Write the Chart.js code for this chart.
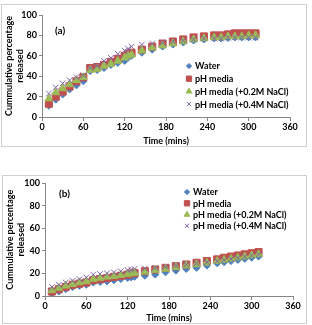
<!DOCTYPE html>
<html><head><meta charset="utf-8">
<script src="https://cdn.jsdelivr.net/npm/chart.js@4/dist/chart.umd.min.js"></script>
<style>
body{margin:0;background:#fff;width:312px;height:325px;position:relative;overflow:hidden}
.box{position:absolute;border:1px solid #cfcfcf;background:#fff}
#boxA{left:1px;top:4px;width:304px;height:141px}
#boxB{left:2px;top:175px;width:303px;height:147px}
canvas{display:block}
</style></head><body>
<div class="box" id="boxA"><canvas id="chartA" width="304" height="141"></canvas></div>
<div class="box" id="boxB"><canvas id="chartB" width="303" height="147"></canvas></div>
<script>
// sampling times (mins)
const times = [10,20,30,40,50,60,70,80,90,100,110,120,125,130,145,160,175,190,205,220,235,250,260,270,280,290,300,310];
const seriesNames = ['Water', 'pH media', 'pH media (+0.2M NaCl)', 'pH media (+0.4M NaCl)'];
const xTicks = [0,60,120,180,240,300,360];
const yTicks = [0,20,40,60,80,100];

// panel (a)
const waterA = [11,17,22,27,31,35,45,46,48,51,53,55,58,60,63,66,69,71,73,75,76,77,77,77.5,78,78,78,78];
const phA    = [13,20,25,30,35,39,48,49,51,54,57,60,62,63,66,69,72,74,76,78,79,80,80,81,82,82,82,82];
const nacl2A = [18,24,28,32,36,39,46,47,50,52,55,58,60,61,65,68,70,72,74,76,77,78,78,79,79,79,80,80];
const nacl4A = [23,29,33,36,39,41,48,50,55,58,62,65,67,69,71,72,73,74,75,76,77,77,77,78,78,78,78,78];

// panel (b)
const waterB = [2,4,6,8,9,10,12,12.5,13,14,15,16,16.5,17,18,19,21,22.5,24,25,27,29,30,31,32,33,34,35];
const phB    = [4,6,8,10,11,12,14,15,16,17,18,19,20,20.5,22,23.5,25,26.5,28,29.5,31,32.5,34,35,36,37,38,39];
const nacl2B = [5,7,9,10.5,12,13,15,16,17,17.5,18.5,19.5,20,20.5,21.5,23,24,25.5,27,28,29.5,31,32,33,34,35,36,37];
const nacl4B = [8,10,12,13.5,15,16.5,19,19.5,20,21,22,23,23.5,24,24.5,25,26,27,28,29,30,31,32,33,34,35,36,37];

const styles = [
  {color:'#4F81BD', pointStyle:'rectRot', radius:3.5},
  {color:'#C0504D', pointStyle:'rect', radius:5},
  {color:'#9BBB59', pointStyle:'triangle', radius:4.5},
  {color:'#8064A2', pointStyle:'crossRot', radius:4}
];
const FONT = 'Lato, "Liberation Sans", sans-serif';

// legend + panel letter drawn inside the plot
const innerLegend = {
  id: 'innerLegend',
  afterDraw(chart, args, opts) {
    const ctx = chart.ctx;
    ctx.save();
    ctx.font = 'bold 9px ' + FONT;
    ctx.textBaseline = 'middle';
    seriesNames.forEach((name, i) => {
      const y = opts.y + i * opts.gap;
      const st = styles[i];
      ctx.fillStyle = st.color;
      ctx.strokeStyle = st.color;
      ctx.lineWidth = 1;
      Chart.helpers.drawPoint(ctx, {pointStyle: st.pointStyle, radius: st.radius * 0.75, rotation: 0, borderWidth: 1}, opts.x, y);
      ctx.fillStyle = '#000';
      ctx.fillText(name, opts.x + 6, y + 0.5);
    });
    ctx.font = 'bold 10px ' + FONT;
    ctx.fillText(opts.label, opts.lx, opts.ly);
    ctx.restore();
  }
};

function makeChart(id, data, geo) {
  const datasets = data.map((vals, i) => ({
    label: seriesNames[i],
    data: times.map((t, k) => ({x: t, y: vals[k]})),
    pointStyle: styles[i].pointStyle,
    pointRadius: styles[i].radius,
    pointBackgroundColor: styles[i].color,
    pointBorderColor: styles[i].color,
    backgroundColor: styles[i].color,
    borderColor: styles[i].color,
    pointBorderWidth: 1,
    showLine: false,
    order: 3 - i
  }));
  return new Chart(document.getElementById(id), {
    type: 'scatter',
    data: {datasets},
    options: {
      responsive: false,
      animation: false,
      layout: {padding: {left: 0, right: geo.right, top: geo.top, bottom: 0}},
      plugins: {
        legend: {display: false},
        tooltip: {enabled: false},
        innerLegend: geo.legend
      },
      scales: {
        x: {
          type: 'linear', min: 0, max: 360,
          afterBuildTicks: s => { s.ticks = xTicks.map(v => ({value: v})); },
          afterFit: s => { s.height = geo.xh; },
          grid: {drawOnChartArea: false, drawTicks: true, tickLength: 4, color: '#868686'},
          border: {color: '#868686'},
          ticks: {font: {family: FONT, size: 9, weight: 'bold'}, color: '#000', padding: 1, maxRotation: 0},
          title: {display: true, text: 'Time (mins)', font: {family: FONT, size: 9, weight: 'bold'}, color: '#000', padding: 0}
        },
        y: {
          type: 'linear', min: 0, max: 100,
          afterBuildTicks: s => { s.ticks = yTicks.map(v => ({value: v})); },
          afterFit: s => { s.width = geo.yw; },
          grid: {drawOnChartArea: false, drawTicks: true, tickLength: 3, color: '#868686'},
          border: {color: '#868686'},
          ticks: {font: {family: FONT, size: 9, weight: 'bold'}, color: '#000', padding: 2},
          title: {display: true, text: ['Cummulative percentage', 'released'], font: {family: FONT, size: 9, weight: 'bold'}, color: '#000', padding: {top: 2, bottom: 0}}
        }
      }
    },
    plugins: [innerLegend]
  });
}

makeChart('chartA', [waterA, phA, nacl2A, nacl4A], {
  right: 16, top: 10, xh: 29, yw: 40,
  legend: {x: 187, y: 61, gap: 12.7, label: '(a)', lx: 53, ly: 26}
});
makeChart('chartB', [waterB, phB, nacl2B, nacl4B], {
  right: 13, top: 6, xh: 27, yw: 42,
  legend: {x: 184, y: 16, gap: 11.3, label: '(b)', lx: 56, ly: 18}
});
</script>
</body></html>
